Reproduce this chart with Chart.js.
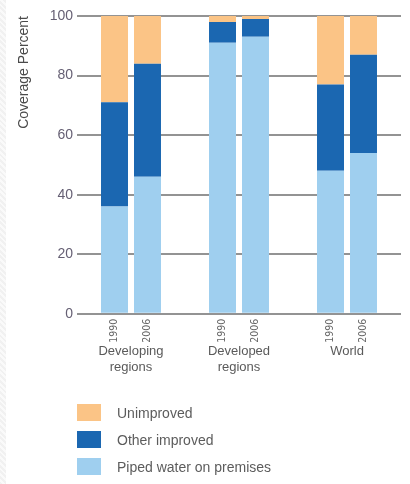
<!DOCTYPE html>
<html lang="en">
<head>
  <meta charset="UTF-8">
  <title>Coverage Percent</title>
  <script src="https://cdn.jsdelivr.net/npm/chart.js"></script>
  <style>
    body {
      margin: 0;
      padding: 0;
      width: 410px;
      height: 484px;
      position: relative;
      background: #fff;
      font-family: 'Liberation Sans', Arial, sans-serif;
    }
    .strip {
      position: absolute;
      left: 0;
      top: 0;
      width: 6px;
      height: 484px;
      background: repeating-linear-gradient(45deg, #f1f1f1 0 2px, #fafafa 2px 4px);
    }
    .chart-container {
      position: absolute;
      left: 0;
      top: 0;
      width: 410px;
      height: 410px;
    }
    #legend {
      position: absolute;
      left: 77px;
      top: 399px;
    }
    .item {
      display: flex;
      align-items: center;
      height: 27px;
      font-size: 14px;
      color: #5c5c5c;
    }
    .box {
      width: 24px;
      height: 17px;
      margin-right: 16px;
    }
  </style>
</head>
<body>
  <div class="strip"></div>
  <div class="chart-container">
    <canvas id="coverageChart"></canvas>
  </div>
  <div id="legend"></div>

  <script>
    // data
    const groups = [['Developing', 'regions'], ['Developed', 'regions'], 'World'];
    const years = ['1990', '2006'];
    const piped1990 = [36, 91, 48];
    const other1990 = [35, 7, 29];
    const unimproved1990 = [29, 2, 23];
    const piped2006 = [46, 93, 54];
    const other2006 = [38, 6, 33];
    const unimproved2006 = [16, 1, 13];
    const yTicks = [0, 20, 40, 60, 80, 100];

    const colors = {
      'Unimproved': '#FBC486',
      'Other improved': '#1B67B1',
      'Piped water on premises': '#9FCFEF'
    };

    function ds(label, data, stack) {
      return {
        label: label,
        data: data,
        stack: stack,
        backgroundColor: colors[label],
        borderWidth: 0,
        categoryPercentage: 0.611,
        barPercentage: 0.818
      };
    }

    const datasets = [
      ds('Piped water on premises', piped1990, years[0]),
      ds('Other improved', other1990, years[0]),
      ds('Unimproved', unimproved1990, years[0]),
      ds('Piped water on premises', piped2006, years[1]),
      ds('Other improved', other2006, years[1]),
      ds('Unimproved', unimproved2006, years[1])
    ];

    // small rotated year labels under each bar
    const yearLabels = {
      id: 'yearLabels',
      afterDraw(chart) {
        const ctx = chart.ctx;
        const bottom = chart.chartArea.bottom;
        ctx.save();
        ctx.fillStyle = '#666';
        ctx.font = '10.5px "Liberation Sans Narrow", "DejaVu Sans Condensed", sans-serif';
        ctx.textAlign = 'right';
        ctx.textBaseline = 'middle';
        years.forEach((yr, s) => {
          const meta = chart.getDatasetMeta(s * 3);
          meta.data.forEach(bar => {
            ctx.save();
            ctx.translate(bar.x, bottom + 5);
            ctx.rotate(-Math.PI / 2);
            ctx.fillText(yr, 0, 0);
            ctx.restore();
          });
        });
        ctx.restore();
      }
    };

    new Chart(document.getElementById('coverageChart'), {
      type: 'bar',
      data: { labels: groups, datasets: datasets },
      options: {
        responsive: true,
        maintainAspectRatio: false,
        animation: false,
        layout: { padding: { left: 12, right: 9, top: 16, bottom: 5 } },
        plugins: {
          legend: { display: false },
          tooltip: { enabled: false }
        },
        scales: {
          x: {
            stacked: true,
            grid: { display: false, drawTicks: false },
            border: { display: false },
            ticks: {
              padding: 30,
              maxRotation: 0,
              color: '#5a5a5a',
              font: { family: 'Liberation Sans', size: 13 }
            }
          },
          y: {
            stacked: true,
            min: 0,
            max: 100,
            afterBuildTicks(scale) {
              scale.ticks = yTicks.map(v => ({ value: v }));
            },
            afterFit(scale) {
              scale.width = 65;
            },
            grid: { color: '#939393', lineWidth: 2, drawTicks: false },
            border: { display: false },
            ticks: {
              padding: 4,
              color: '#655f73',
              font: { family: 'Liberation Sans', size: 14 }
            },
            title: {
              display: true,
              text: 'Coverage Percent',
              align: 'end',
              color: '#4a4a4a',
              padding: { top: 4, bottom: 4 },
              font: { family: 'Liberation Sans', size: 14 }
            }
          }
        }
      },
      plugins: [yearLabels]
    });

    // legend as html, in the order of the picture
    const legend = document.getElementById('legend');
    ['Unimproved', 'Other improved', 'Piped water on premises'].forEach(name => {
      const row = document.createElement('div');
      row.className = 'item';
      const box = document.createElement('span');
      box.className = 'box';
      box.style.background = colors[name];
      row.appendChild(box);
      row.appendChild(document.createTextNode(name));
      legend.appendChild(row);
    });
  </script>
</body>
</html>
